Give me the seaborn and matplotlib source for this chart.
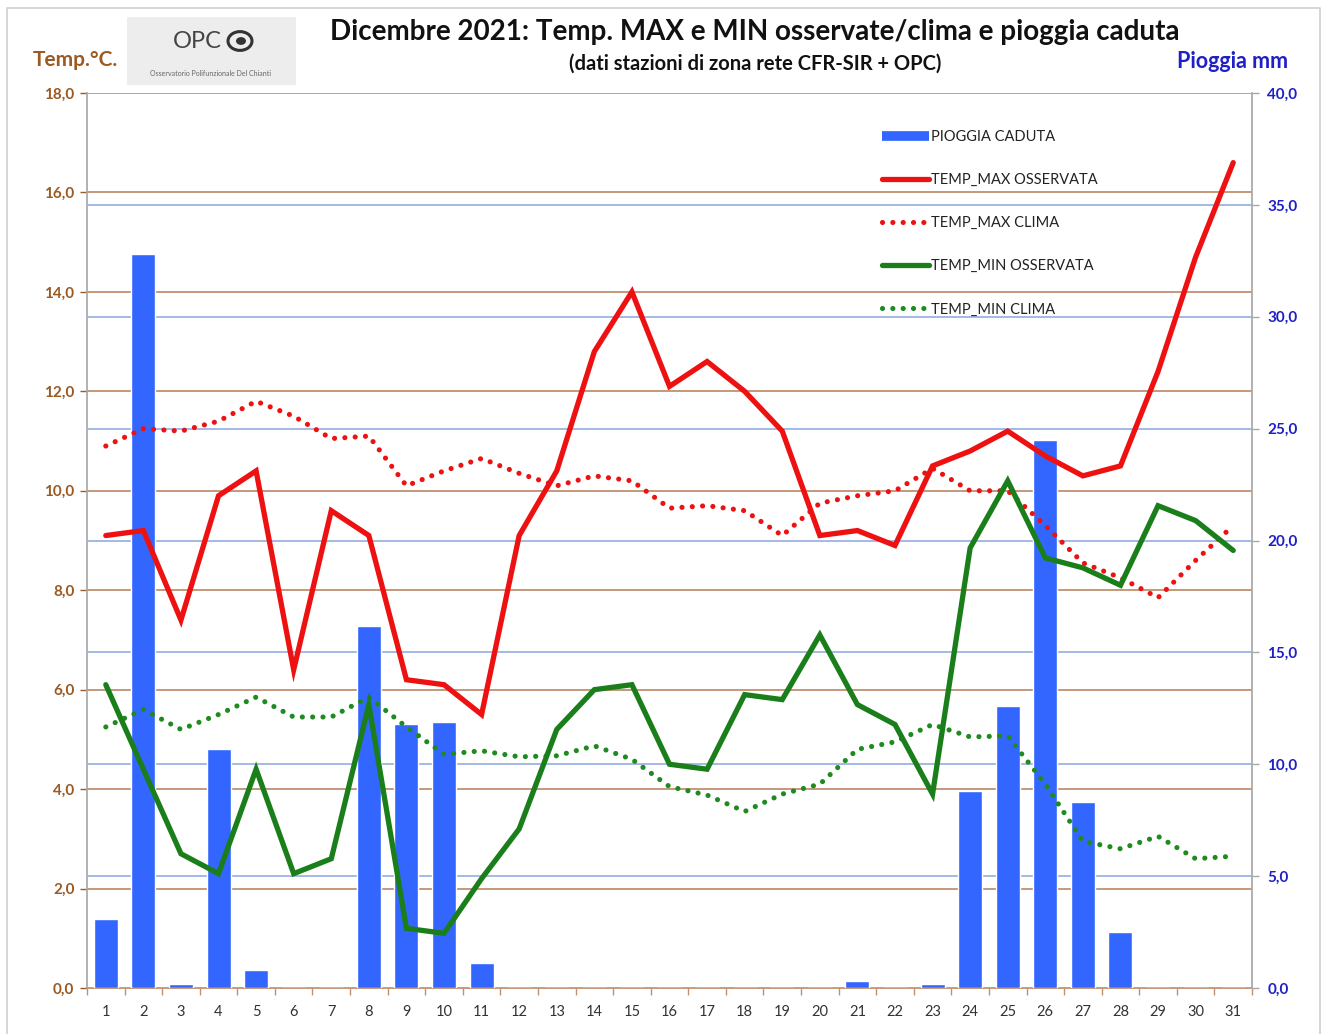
import numpy as np
import pandas as pd
import matplotlib
matplotlib.use("Agg")
import matplotlib.pyplot as plt
import seaborn as sns
from matplotlib.ticker import FuncFormatter, MultipleLocator, FixedLocator
from matplotlib.lines import Line2D
from matplotlib.patches import Rectangle, Circle

# ---------------- data ----------------
giorni = list(range(1, 32))
pioggia = [3.1, 32.8, 0.2, 10.7, 0.8, 0.0, 0.0, 16.2, 11.8, 11.9, 1.1,
           0.0, 0.0, 0.0, 0.0, 0.0, 0.0, 0.0, 0.0, 0.0, 0.3, 0.0, 0.2,
           8.8, 12.6, 24.5, 8.3, 2.5, 0.0, 0.0, 0.0]
tmax_oss = [9.1, 9.2, 7.4, 9.9, 10.4, 6.4, 9.6, 9.1, 6.2, 6.1, 5.5,
            9.1, 10.4, 12.8, 14.0, 12.1, 12.6, 12.0, 11.2, 9.1, 9.2, 8.9,
            10.5, 10.8, 11.2, 10.7, 10.3, 10.5, 12.4, 14.7, 16.6]
tmax_clima = [10.9, 11.25, 11.2, 11.4, 11.8, 11.5, 11.05, 11.1, 10.1, 10.4, 10.65,
              10.35, 10.1, 10.3, 10.2, 9.65, 9.7, 9.6, 9.1, 9.75, 9.9, 10.0,
              10.45, 10.0, 10.0, 9.3, 8.55, 8.25, 7.85, 8.6, 9.3]
tmin_oss = [6.1, 4.4, 2.7, 2.3, 4.4, 2.3, 2.6, 5.7, 1.2, 1.1, 2.2,
            3.2, 5.2, 6.0, 6.1, 4.5, 4.4, 5.9, 5.8, 7.1, 5.7, 5.3,
            3.9, 8.85, 10.2, 8.65, 8.45, 8.1, 9.7, 9.4, 8.8]
tmin_clima = [5.25, 5.6, 5.2, 5.5, 5.85, 5.45, 5.45, 5.85, 5.25, 4.7, 4.77,
              4.65, 4.67, 4.87, 4.6, 4.05, 3.88, 3.55, 3.9, 4.1, 4.8, 4.95,
              5.3, 5.05, 5.07, 4.1, 2.95, 2.8, 3.05, 2.6, 2.65]

df = pd.DataFrame({"giorno": giorni, "pioggia": pioggia, "tmax_oss": tmax_oss,
                   "tmax_clima": tmax_clima, "tmin_oss": tmin_oss, "tmin_clima": tmin_clima})

titolo = "Dicembre 2021: Temp. MAX e MIN osservate/clima e pioggia caduta"
sottotitolo = "(dati stazioni di zona rete CFR-SIR + OPC)"
leg_labels = ["PIOGGIA CADUTA", "TEMP_MAX OSSERVATA", "TEMP_MAX CLIMA",
              "TEMP_MIN OSSERVATA", "TEMP_MIN CLIMA"]

# ---------------- style ----------------
sns.set_theme(style="white")
plt.rcParams["font.family"] = ["Lato", "DejaVu Sans"]

BROWN = "#9A5A22"
BROWN_GRID = "#C09070"
BLUE_TXT = "#2020C8"
BLUE_GRID = "#94AEE0"
BAR = "#3366FF"
RED = "#EE1111"
GREEN = "#1A7F1A"
GREENDOT = "#1F8A1F"
GRAY = "#A8A8A8"

W, H = 1323, 1034
fig = plt.figure(figsize=(W / 100, H / 100), dpi=100)
L, R, B, T = 87 / W, 1252 / W, 1 - 988 / H, 1 - 93 / H
ax_t = fig.add_axes([L, B, R - L, T - B])
ax_r = ax_t.twinx()
ax_l = ax_t.twinx()

comma = FuncFormatter(lambda v, p: f"{v:.1f}".replace(".", ","))

# temperature axis (bottom layer: brown grid)
ax_t.set_ylim(0, 18)
ax_t.set_xlim(0.5, 31.5)
ax_t.yaxis.set_major_locator(MultipleLocator(2))
ax_t.yaxis.set_major_formatter(comma)
ax_t.grid(axis="y", color=BROWN_GRID, lw=1.3)
ax_t.grid(axis="x", visible=False)
ax_t.tick_params(axis="y", colors=BROWN, labelcolor=BROWN, length=5, width=1, direction="out", left=True, labelsize=11, pad=4)
for lab in ax_t.get_yticklabels():
    lab.set_fontweight("bold")
ax_t.set_xticks(giorni)
ax_t.set_xticklabels([str(g) for g in giorni], fontsize=10.5, color="#333333")
ax_t.xaxis.set_minor_locator(FixedLocator(np.arange(0.5, 32, 1)))
ax_t.tick_params(axis="x", which="major", length=0, pad=12)
ax_t.tick_params(axis="x", which="minor", length=5, width=1, color=BROWN_GRID, direction="out", bottom=True)
ax_t.spines["top"].set_visible(False)
ax_t.spines["left"].set_color(GRAY)
ax_t.spines["bottom"].set_color(BROWN_GRID)
ax_t.spines["bottom"].set_linewidth(1.3)
ax_t.spines["right"].set_visible(False)

# rain axis (middle layer: blue grid + bars)
sns.barplot(data=df, x="giorno", y="pioggia", ax=ax_r, color=BAR, width=0.64,
            native_scale=True, saturation=1, zorder=2)
ax_r.set_xlim(0.5, 31.5)
ax_r.set_ylim(0, 40)
ax_r.yaxis.set_major_locator(MultipleLocator(5))
ax_r.yaxis.set_major_formatter(comma)
ax_r.grid(axis="y", color=BLUE_GRID, lw=1.2, zorder=0)
ax_r.set_axisbelow(True)
ax_r.grid(axis="x", visible=False)
ax_r.set_xlabel("")
ax_r.set_ylabel("")
ax_r.tick_params(axis="y", colors=GRAY, labelcolor=BLUE_TXT, length=5, width=1, direction="out", right=True, labelsize=11, pad=6)
for lab in ax_r.get_yticklabels():
    lab.set_fontweight("bold")
ax_r.tick_params(axis="x", which="both", length=0, labelbottom=False)
ax_r.spines["right"].set_color(GRAY)
for s in ["top", "left", "bottom"]:
    ax_r.spines[s].set_visible(False)
ax_r.patch.set_visible(False)

# lines axis (top layer)
ax_l.set_ylim(0, 18)
ax_l.set_xlim(0.5, 31.5)
ax_l.patch.set_visible(False)
for s in ax_l.spines.values():
    s.set_visible(False)
ax_l.tick_params(left=False, right=False, labelright=False, labelleft=False, bottom=False, labelbottom=False)
ax_l.grid(False)

lw = 3.8
dot_lw = 3.7
dot_dash = (0.01, 2.0)
dot = dict(lw=dot_lw, dashes=dot_dash, dash_capstyle="round")
sns.lineplot(data=df, x="giorno", y="tmax_clima", ax=ax_l, color=RED, **dot)
sns.lineplot(data=df, x="giorno", y="tmin_clima", ax=ax_l, color=GREENDOT, **dot)
sns.lineplot(data=df, x="giorno", y="tmin_oss", ax=ax_l, color=GREEN, lw=lw, solid_joinstyle="miter")
sns.lineplot(data=df, x="giorno", y="tmax_oss", ax=ax_l, color=RED, lw=lw, solid_joinstyle="miter")
ax_l.set_xlabel("")
ax_l.set_ylabel("")
ax_l.set_yticks([])

# legend
handles = [
    Line2D([], [], color=BAR, lw=7, solid_capstyle="butt"),
    Line2D([], [], color=RED, lw=lw, solid_capstyle="round"),
    Line2D([], [], color=RED, lw=dot_lw, dashes=dot_dash, dash_capstyle="round"),
    Line2D([], [], color=GREEN, lw=lw, solid_capstyle="round"),
    Line2D([], [], color=GREENDOT, lw=dot_lw, dashes=dot_dash, dash_capstyle="round"),
]
leg = ax_l.legend(handles, leg_labels, loc="upper left",
                  bbox_to_anchor=((876 - 87) / (1252 - 87), 1 - (124 - 93) / (988 - 93)),
                  frameon=False, fontsize=10.5, handlelength=3.2, handletextpad=0.15,
                  labelspacing=2.0, borderaxespad=0)
for t in leg.get_texts():
    t.set_color("#222222")

# texts
fig.text(755 / W, 1 - 32 / H, titolo, ha="center", va="center", fontsize=20, fontweight="bold", color="#111111")
fig.text(755 / W, 1 - 64 / H, sottotitolo, ha="center", va="center", fontsize=14.5, fontweight="bold", color="#111111")
fig.text(75 / W, 1 - 60 / H, "Temp.°C.", ha="center", va="center", fontsize=15, fontweight="bold", color=BROWN)
fig.text(1233 / W, 1 - 62 / H, "Pioggia mm", ha="center", va="center", fontsize=15.5, fontweight="bold", color=BLUE_TXT)

# logo box
fig.patches.append(Rectangle((127 / W, 1 - 85 / H), (296 - 127) / W, (85 - 17) / H,
                             transform=fig.transFigure, facecolor="#EDEDED", edgecolor="none", zorder=0))
fig.text(197 / W, 1 - 42 / H, "OPC", ha="center", va="center", fontsize=17, color="#444444")
fig.patches.append(Circle((240 / W, 1 - 41 / H), 12 / W, transform=fig.transFigure,
                          facecolor="none", edgecolor="#333333", lw=2.2))
fig.patches.append(Circle((241 / W, 1 - 41 / H), 5 / W, transform=fig.transFigure,
                          facecolor="#333333", edgecolor="none"))
fig.text(211 / W, 1 - 74 / H, "Osservatorio Polifunzionale Del Chianti", ha="center", va="center", fontsize=5, color="#666666")

# outer frame
fig.add_artist(Line2D([7 / W, 7 / W, 1320 / W, 1320 / W], [0, 1 - 8 / H, 1 - 8 / H, 0],
                      transform=fig.transFigure, color="#D0D0D0", lw=1.2))

fig.savefig("out.png", dpi=100)
